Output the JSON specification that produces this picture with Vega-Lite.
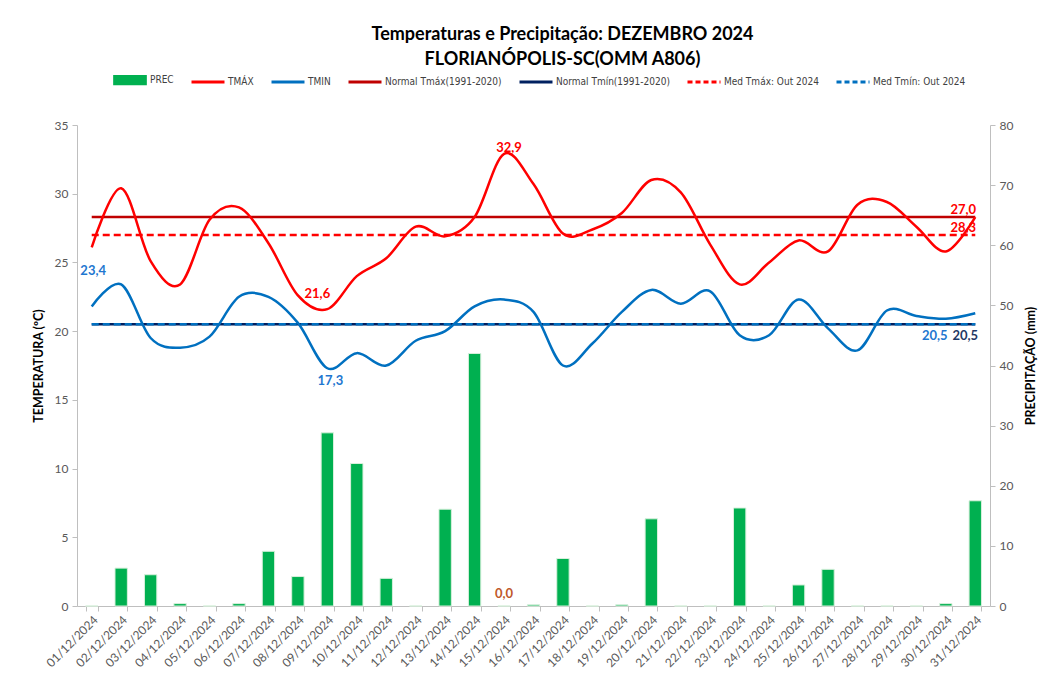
{
  "$schema": "https://vega.github.io/schema/vega-lite/v6.json",
  "width": 913,
  "height": 481,
  "autosize": {"type": "none"},
  "padding": {"left": 77, "top": 125, "right": 55, "bottom": 69},
  "background": "white",
  "title": {
    "text": ["Temperaturas e Precipitação: DEZEMBRO 2024", "FLORIANÓPOLIS-SC(OMM A806)"],
    "font": "Lato", "fontSize": 18, "fontWeight": "bold", "color": "#000000",
    "anchor": "middle", "dx": 29, "lineHeight": 25, "offset": -7
  },
  "config": {
    "font": "Lato",
    "view": {"stroke": null},
    "axis": {"labelFont": "Lato", "titleFont": "Lato", "labelColor": "#595959", "domainColor": "#BFBFBF", "tickColor": "#BFBFBF", "grid": false}
  },
  "datasets": {
    "daily": [
      {"date": "01/12/2024", "tmax": 26.1, "tmin": 21.8, "prec": 0.0},
      {"date": "02/12/2024", "tmax": 30.4, "tmin": 23.4, "prec": 6.3},
      {"date": "03/12/2024", "tmax": 25.1, "tmin": 19.5, "prec": 5.2},
      {"date": "04/12/2024", "tmax": 23.4, "tmin": 18.8, "prec": 0.4},
      {"date": "05/12/2024", "tmax": 28.1, "tmin": 19.6, "prec": 0.0},
      {"date": "06/12/2024", "tmax": 29.0, "tmin": 22.5, "prec": 0.4},
      {"date": "07/12/2024", "tmax": 26.4, "tmin": 22.5, "prec": 9.1},
      {"date": "08/12/2024", "tmax": 22.6, "tmin": 20.6, "prec": 4.9},
      {"date": "09/12/2024", "tmax": 21.6, "tmin": 17.3, "prec": 28.8},
      {"date": "10/12/2024", "tmax": 24.0, "tmin": 18.4, "prec": 23.7},
      {"date": "11/12/2024", "tmax": 25.3, "tmin": 17.5, "prec": 4.6},
      {"date": "12/12/2024", "tmax": 27.6, "tmin": 19.3, "prec": 0.0},
      {"date": "13/12/2024", "tmax": 26.9, "tmin": 20.0, "prec": 16.1},
      {"date": "14/12/2024", "tmax": 28.3, "tmin": 21.8, "prec": 42.0},
      {"date": "15/12/2024", "tmax": 32.9, "tmin": 22.3, "prec": 0.0},
      {"date": "16/12/2024", "tmax": 30.7, "tmin": 21.4, "prec": 0.2},
      {"date": "17/12/2024", "tmax": 27.1, "tmin": 17.5, "prec": 7.9},
      {"date": "18/12/2024", "tmax": 27.4, "tmin": 19.1, "prec": 0.0},
      {"date": "19/12/2024", "tmax": 28.6, "tmin": 21.4, "prec": 0.2},
      {"date": "20/12/2024", "tmax": 31.0, "tmin": 23.0, "prec": 14.5},
      {"date": "21/12/2024", "tmax": 30.1, "tmin": 22.0, "prec": 0.0},
      {"date": "22/12/2024", "tmax": 26.3, "tmin": 22.9, "prec": 0.0},
      {"date": "23/12/2024", "tmax": 23.4, "tmin": 19.7, "prec": 16.3},
      {"date": "24/12/2024", "tmax": 25.0, "tmin": 19.7, "prec": 0.0},
      {"date": "25/12/2024", "tmax": 26.6, "tmin": 22.3, "prec": 3.5},
      {"date": "26/12/2024", "tmax": 25.8, "tmin": 20.2, "prec": 6.1},
      {"date": "27/12/2024", "tmax": 29.2, "tmin": 18.6, "prec": 0.0},
      {"date": "28/12/2024", "tmax": 29.4, "tmin": 21.5, "prec": 0.0},
      {"date": "29/12/2024", "tmax": 27.6, "tmin": 21.1, "prec": 0.0},
      {"date": "30/12/2024", "tmax": 25.8, "tmin": 20.9, "prec": 0.4},
      {"date": "31/12/2024", "tmax": 28.3, "tmin": 21.3, "prec": 17.5}
    ],
    "normals": [
      {"series": "Normal Tmáx(1991-2020)", "value": 28.3, "kind": "normal"},
      {"series": "Normal Tmín(1991-2020)", "value": 20.5, "kind": "normal"},
      {"series": "Med Tmáx: Out 2024", "value": 27.0, "kind": "med"},
      {"series": "Med Tmín: Out 2024", "value": 20.5, "kind": "med"}
    ],
    "labels": [
      {"date": "02/12/2024", "y": 23.4, "label": "23,4", "kind": "tmin_hi"},
      {"date": "09/12/2024", "y": 17.3, "label": "17,3", "kind": "tmin_lo"},
      {"date": "30/12/2024", "y": 20.5, "label": "20,5", "kind": "tmin_end"},
      {"date": "31/12/2024", "y": 20.5, "label": "20,5", "kind": "normal_tmin"},
      {"date": "09/12/2024", "y": 21.6, "label": "21,6", "kind": "tmax_lo"},
      {"date": "15/12/2024", "y": 32.9, "label": "32,9", "kind": "tmax_hi"},
      {"date": "31/12/2024", "y": 28.3, "label": "27,0", "kind": "tmax_end"},
      {"date": "31/12/2024", "y": 27.0, "label": "28,3", "kind": "tmax_end"},
      {"date": "15/12/2024", "y": 0.0, "label": "0,0", "kind": "prec"}
    ]
  },
  "encoding": {
    "x": {
      "field": "date", "type": "nominal",
      "scale": {"paddingInner": 0.58, "paddingOuter": 0.29},
      "axis": {"title": null, "labelAngle": -45, "labelFontSize": 12, "tickBand": "extent", "tickSize": 5, "labelPadding": 3}
    }
  },
  "layer": [
    {
      "layer": [
        {
          "data": {"name": "daily"},
          "mark": {"type": "bar", "stroke": "#D8F0DC", "strokeWidth": 1},
          "encoding": {
            "y": {"field": "prec", "type": "quantitative", "scale": {"domain": [0, 80], "nice": false},
              "axis": {"title": "PRECIPITAÇÃO  (mm)", "orient": "right", "values": [0, 10, 20, 30, 40, 50, 60, 70, 80], "labelFontSize": 12, "titleFontSize": 12.5, "titleFontWeight": "bold", "titleColor": "#000000", "titleAngle": 270, "titleBaseline": "top", "titlePadding": 12, "tickSize": 5, "labelPadding": 4}},
            "color": {
              "datum": "PREC", "type": "nominal", "title": null,
              "scale": {
                "domain": ["PREC", "TMÁX", "TMIN", "Normal Tmáx(1991-2020)", "Normal Tmín(1991-2020)", "Med Tmáx: Out 2024", "Med Tmín: Out 2024"],
                "range": ["#00B050", "#FF0000", "#0070C0", "#C00000", "#002060", "#FF0000", "#0070C0"]
              },
              "legend": {
                "title": null, "orient": "none", "legendX": 35, "legendY": -63, "direction": "horizontal",
                "symbolType": "stroke", "symbolSize": 1089, "symbolStrokeWidth": 3,
                "labelFont": "DejaVu Sans Condensed, Lato", "labelFontSize": 10, "labelColor": "#404040", "labelOffset": 2, "columnPadding": 11,
                "encode": {
                  "symbols": {
                    "enter": {
                      "strokeDash": {"signal": "(datum.value == 'Med Tmáx: Out 2024' || datum.value == 'Med Tmín: Out 2024') ? [5, 3] : [1, 0]"},
                      "shape": {"signal": "datum.value == 'PREC' ? 'M-0.93,-0.22H0.93V0.22H-0.93Z' : 'stroke'"}
                    },
                    "update": {
                      "strokeDash": {"signal": "(datum.value == 'Med Tmáx: Out 2024' || datum.value == 'Med Tmín: Out 2024') ? [5, 3] : [1, 0]"},
                      "shape": {"signal": "datum.value == 'PREC' ? 'M-0.93,-0.22H0.93V0.22H-0.93Z' : 'stroke'"},
                      "fill": {"signal": "datum.value == 'PREC' ? '#00B050' : 'transparent'"},
                      "opacity": {"value": 1}
                    }
                  }
                }
              }
            }
          }
        },
        {
          "data": {"name": "labels"},
          "transform": [{"filter": "datum.kind == 'prec'"}],
          "mark": {"type": "text", "color": "#C0582A", "fontWeight": "bold", "fontSize": 13, "dy": -12},
          "encoding": {
            "y": {"field": "y", "type": "quantitative", "scale": {"domain": [0, 80], "nice": false},
              "axis": {"title": "PRECIPITAÇÃO  (mm)", "orient": "right", "values": [0, 10, 20, 30, 40, 50, 60, 70, 80], "labelFontSize": 12, "titleFontSize": 12.5, "titleFontWeight": "bold", "titleColor": "#000000", "titleAngle": 270, "titleBaseline": "top", "titlePadding": 12, "tickSize": 5, "labelPadding": 4}},
            "text": {"field": "label"}
          }
        }
      ]
    },
    {
      "layer": [
        {
          "data": {"name": "normals"},
          "transform": [{"filter": "datum.kind == 'normal'"}],
          "mark": {"type": "rule", "strokeWidth": 2.5},
          "encoding": {
            "x": {"datum": "01/12/2024", "type": "nominal"},
            "x2": {"datum": "31/12/2024"},
            "y": {"field": "value", "type": "quantitative", "scale": {"domain": [0, 35], "nice": false},
              "axis": {"title": "TEMPERATURA  (ºC)", "orient": "left", "values": [0, 5, 10, 15, 20, 25, 30, 35], "labelFontSize": 12, "titleFontSize": 12.5, "titleFontWeight": "bold", "titleColor": "#000000", "titlePadding": 9, "tickSize": 5, "labelPadding": 4}},
            "color": {"field": "series", "type": "nominal", "title": null,
              "legend": {
                "title": null, "orient": "none", "legendX": 35, "legendY": -63, "direction": "horizontal",
                "symbolType": "stroke", "symbolSize": 1089, "symbolStrokeWidth": 3,
                "labelFont": "DejaVu Sans Condensed, Lato", "labelFontSize": 10, "labelColor": "#404040", "labelOffset": 2, "columnPadding": 11,
                "encode": {
                  "symbols": {
                    "enter": {
                      "strokeDash": {"signal": "(datum.value == 'Med Tmáx: Out 2024' || datum.value == 'Med Tmín: Out 2024') ? [5, 3] : [1, 0]"},
                      "shape": {"signal": "datum.value == 'PREC' ? 'M-0.93,-0.22H0.93V0.22H-0.93Z' : 'stroke'"}
                    },
                    "update": {
                      "strokeDash": {"signal": "(datum.value == 'Med Tmáx: Out 2024' || datum.value == 'Med Tmín: Out 2024') ? [5, 3] : [1, 0]"},
                      "shape": {"signal": "datum.value == 'PREC' ? 'M-0.93,-0.22H0.93V0.22H-0.93Z' : 'stroke'"},
                      "fill": {"signal": "datum.value == 'PREC' ? '#00B050' : 'transparent'"},
                      "opacity": {"value": 1}
                    }
                  }
                }
              }}
          }
        },
        {
          "data": {"name": "normals"},
          "transform": [{"filter": "datum.kind == 'med'"}],
          "mark": {"type": "rule", "strokeWidth": 2.5, "strokeDash": [7, 4]},
          "encoding": {
            "x": {"datum": "01/12/2024", "type": "nominal"},
            "x2": {"datum": "31/12/2024"},
            "y": {"field": "value", "type": "quantitative", "scale": {"domain": [0, 35], "nice": false},
              "axis": {"title": "TEMPERATURA  (ºC)", "orient": "left", "values": [0, 5, 10, 15, 20, 25, 30, 35], "labelFontSize": 12, "titleFontSize": 12.5, "titleFontWeight": "bold", "titleColor": "#000000", "titlePadding": 9, "tickSize": 5, "labelPadding": 4}},
            "color": {"field": "series", "type": "nominal", "title": null}
          }
        },
        {
          "data": {"name": "daily"},
          "mark": {"type": "line", "strokeWidth": 2.5, "interpolate": "cardinal"},
          "encoding": {
            "y": {"field": "tmax", "type": "quantitative", "scale": {"domain": [0, 35], "nice": false},
              "axis": {"title": "TEMPERATURA  (ºC)", "orient": "left", "values": [0, 5, 10, 15, 20, 25, 30, 35], "labelFontSize": 12, "titleFontSize": 12.5, "titleFontWeight": "bold", "titleColor": "#000000", "titlePadding": 9, "tickSize": 5, "labelPadding": 4}},
            "color": {"datum": "TMÁX", "type": "nominal", "title": null}
          }
        },
        {
          "data": {"name": "daily"},
          "mark": {"type": "line", "strokeWidth": 2.5, "interpolate": "cardinal"},
          "encoding": {
            "y": {"field": "tmin", "type": "quantitative", "scale": {"domain": [0, 35], "nice": false},
              "axis": {"title": "TEMPERATURA  (ºC)", "orient": "left", "values": [0, 5, 10, 15, 20, 25, 30, 35], "labelFontSize": 12, "titleFontSize": 12.5, "titleFontWeight": "bold", "titleColor": "#000000", "titlePadding": 9, "tickSize": 5, "labelPadding": 4}},
            "color": {"datum": "TMIN", "type": "nominal", "title": null}
          }
        },
        {
          "data": {"name": "labels"},
          "transform": [{"filter": "datum.kind == 'tmax_lo'"}],
          "mark": {"type": "text", "color": "#FF0000", "fontWeight": "bold", "fontSize": 13, "dx": -10, "dy": -15},
          "encoding": {
            "y": {"field": "y", "type": "quantitative", "scale": {"domain": [0, 35], "nice": false},
              "axis": {"title": "TEMPERATURA  (ºC)", "orient": "left", "values": [0, 5, 10, 15, 20, 25, 30, 35], "labelFontSize": 12, "titleFontSize": 12.5, "titleFontWeight": "bold", "titleColor": "#000000", "titlePadding": 9, "tickSize": 5, "labelPadding": 4}},
            "text": {"field": "label"}
          }
        },
        {
          "data": {"name": "labels"},
          "transform": [{"filter": "datum.kind == 'tmax_hi'"}],
          "mark": {"type": "text", "color": "#FF0000", "fontWeight": "bold", "fontSize": 13, "dx": 5, "dy": -6},
          "encoding": {
            "y": {"field": "y", "type": "quantitative", "scale": {"domain": [0, 35], "nice": false},
              "axis": {"title": "TEMPERATURA  (ºC)", "orient": "left", "values": [0, 5, 10, 15, 20, 25, 30, 35], "labelFontSize": 12, "titleFontSize": 12.5, "titleFontWeight": "bold", "titleColor": "#000000", "titlePadding": 9, "tickSize": 5, "labelPadding": 4}},
            "text": {"field": "label"}
          }
        },
        {
          "data": {"name": "labels"},
          "transform": [{"filter": "datum.kind == 'tmax_end'"}],
          "mark": {"type": "text", "color": "#FF0000", "fontWeight": "bold", "fontSize": 13, "dx": -12, "dy": -7},
          "encoding": {
            "y": {"field": "y", "type": "quantitative", "scale": {"domain": [0, 35], "nice": false},
              "axis": {"title": "TEMPERATURA  (ºC)", "orient": "left", "values": [0, 5, 10, 15, 20, 25, 30, 35], "labelFontSize": 12, "titleFontSize": 12.5, "titleFontWeight": "bold", "titleColor": "#000000", "titlePadding": 9, "tickSize": 5, "labelPadding": 4}},
            "text": {"field": "label"}
          }
        },
        {
          "data": {"name": "labels"},
          "transform": [{"filter": "datum.kind == 'tmin_hi'"}],
          "mark": {"type": "text", "color": "#1F77D0", "fontWeight": "bold", "fontSize": 13, "dx": -28, "dy": -13},
          "encoding": {
            "y": {"field": "y", "type": "quantitative", "scale": {"domain": [0, 35], "nice": false},
              "axis": {"title": "TEMPERATURA  (ºC)", "orient": "left", "values": [0, 5, 10, 15, 20, 25, 30, 35], "labelFontSize": 12, "titleFontSize": 12.5, "titleFontWeight": "bold", "titleColor": "#000000", "titlePadding": 9, "tickSize": 5, "labelPadding": 4}},
            "text": {"field": "label"}
          }
        },
        {
          "data": {"name": "labels"},
          "transform": [{"filter": "datum.kind == 'tmin_lo'"}],
          "mark": {"type": "text", "color": "#1F77D0", "fontWeight": "bold", "fontSize": 13, "dx": 3, "dy": 13},
          "encoding": {
            "y": {"field": "y", "type": "quantitative", "scale": {"domain": [0, 35], "nice": false},
              "axis": {"title": "TEMPERATURA  (ºC)", "orient": "left", "values": [0, 5, 10, 15, 20, 25, 30, 35], "labelFontSize": 12, "titleFontSize": 12.5, "titleFontWeight": "bold", "titleColor": "#000000", "titlePadding": 9, "tickSize": 5, "labelPadding": 4}},
            "text": {"field": "label"}
          }
        },
        {
          "data": {"name": "labels"},
          "transform": [{"filter": "datum.kind == 'tmin_end'"}],
          "mark": {"type": "text", "color": "#1F77D0", "fontWeight": "bold", "fontSize": 13, "dx": -11, "dy": 12},
          "encoding": {
            "y": {"field": "y", "type": "quantitative", "scale": {"domain": [0, 35], "nice": false},
              "axis": {"title": "TEMPERATURA  (ºC)", "orient": "left", "values": [0, 5, 10, 15, 20, 25, 30, 35], "labelFontSize": 12, "titleFontSize": 12.5, "titleFontWeight": "bold", "titleColor": "#000000", "titlePadding": 9, "tickSize": 5, "labelPadding": 4}},
            "text": {"field": "label"}
          }
        },
        {
          "data": {"name": "labels"},
          "transform": [{"filter": "datum.kind == 'normal_tmin'"}],
          "mark": {"type": "text", "color": "#1F3864", "fontWeight": "bold", "fontSize": 13, "dx": -10, "dy": 12},
          "encoding": {
            "y": {"field": "y", "type": "quantitative", "scale": {"domain": [0, 35], "nice": false},
              "axis": {"title": "TEMPERATURA  (ºC)", "orient": "left", "values": [0, 5, 10, 15, 20, 25, 30, 35], "labelFontSize": 12, "titleFontSize": 12.5, "titleFontWeight": "bold", "titleColor": "#000000", "titlePadding": 9, "tickSize": 5, "labelPadding": 4}},
            "text": {"field": "label"}
          }
        }
      ]
    }
  ],
  "resolve": {"scale": {"y": "independent"}}
}
